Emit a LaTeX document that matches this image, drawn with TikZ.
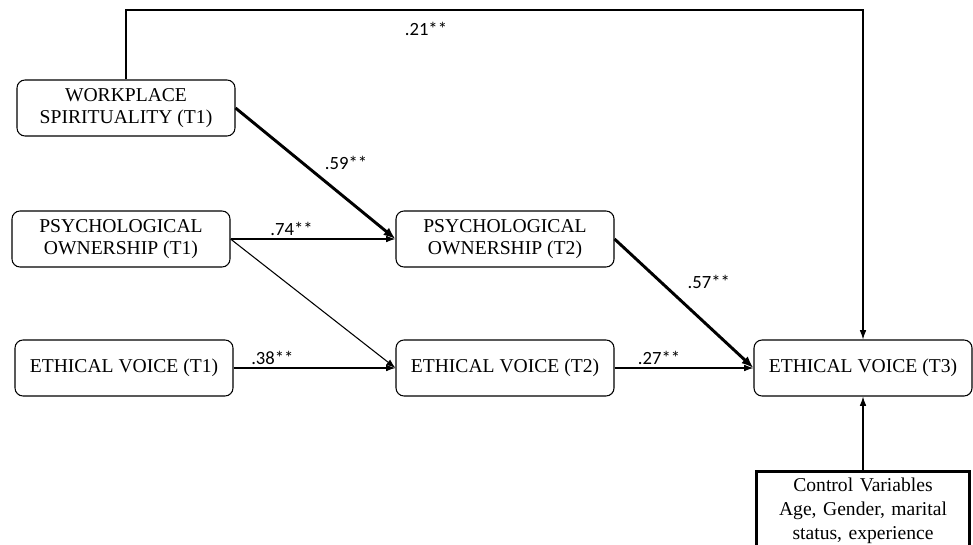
\documentclass[tikz,border=0pt]{standalone}
\usepackage{fontspec}
\setmainfont{Liberation Serif}
\newfontfamily\coeffont{Carlito}
\usetikzlibrary{arrows.meta}

\begin{document}
\begin{tikzpicture}[x=0.75pt,y=-0.75pt]
\tikzset{
  var/.style={draw,rounded corners=6pt,line width=0.8pt,align=center,
    minimum width=163.5pt,minimum height=42pt,inner sep=2pt,
    font=\fontsize{14.7}{17}\selectfont},
  ctrlbox/.style={draw,line width=2pt,align=center,text width=150pt,
    inner sep=5pt,font=\fontsize{14.7}{18}\selectfont},
  path/.style={line width=0.8pt,-{Latex[length=7pt,width=5pt]}},
  strong/.style={line width=2.2pt,-{Latex[length=9pt,width=7pt]}},
  coef/.style={font=\coeffont\fontsize{14}{16}\selectfont,inner sep=2pt}
}
\clip (0,0) rectangle (973,545);
% variables
\node[var] (ws)  at (126,108) {WORKPLACE\\SPIRITUALITY (T1)};
\node[var] (po1) at (121,239) {PSYCHOLOGICAL\\OWNERSHIP (T1)};
\node[var] (ev1) at (124,368) {ETHICAL VOICE (T1)};
\node[var] (po2) at (505,239) {PSYCHOLOGICAL\\OWNERSHIP (T2)};
\node[var] (ev2) at (505,368) {ETHICAL VOICE (T2)};
\node[var] (ev3) at (863,368) {ETHICAL VOICE (T3)};
\node[ctrlbox,anchor=north] (ctrl) at (863,470)
  {Control Variables\\Age, Gender, marital\\status, experience};
\coordinate (topy) at (0,10);
% paths
\draw[path] (ws.north) -- (ws.north |- topy)
  -- node[coef,pos=0.407,below=7pt] {.21**} (ev3.north |- topy) -- (ev3.north);
\draw[strong] (ws.east) -- node[coef,pos=0.5,above right,xshift=4pt] {.59**} (po2.west);
\draw[path] (po1.east) -- node[coef,pos=0.37,above] {.74**} (po2.west);
\draw[path] (po1.east) -- (ev2.west);
\draw[path] (ev1.east) -- node[coef,pos=0.24,above] {.38**} (ev2.west);
\draw[strong] (po2.east) -- node[coef,pos=0.42,above right,xshift=8pt] {.57**} (ev3.west);
\draw[path] (ev2.east) -- node[coef,pos=0.32,above] {.27**} (ev3.west);
\draw[path] (ctrl.north) -- (ev3.south);
\end{tikzpicture}
\end{document}
